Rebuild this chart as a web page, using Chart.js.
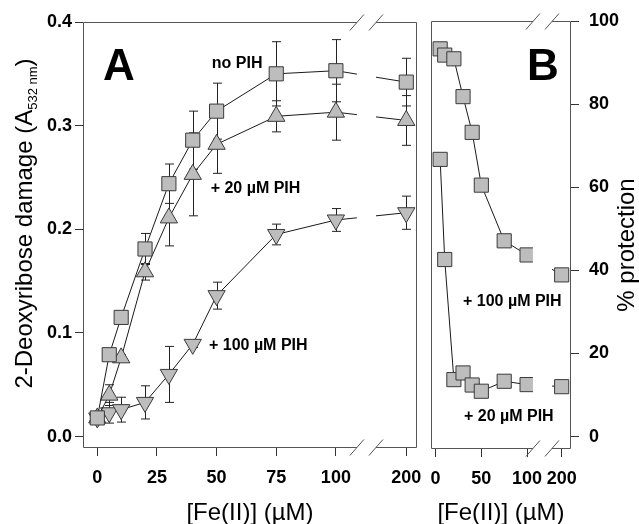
<!DOCTYPE html>
<html>
<head>
<meta charset="utf-8">
<script src="https://cdn.jsdelivr.net/npm/chart.js@4/dist/chart.umd.min.js"></script>
<style>
  body { margin: 0; background: #fff; }
  #wrap { position: relative; width: 639px; height: 524px; }
  canvas { position: absolute; top: 0; }
</style>
</head>
<body>
<div id="wrap">
  <canvas id="chartA" width="424" height="524" style="left:0"></canvas>
  <canvas id="chartB" width="215" height="524" style="left:424px"></canvas>
</div>
<script>
// panel A - 2-deoxyribose damage
var ironA = [0, 5, 10, 20, 30, 40, 50, 75, 100, 200];
var damageNoPIH  = [0.018, 0.079, 0.115, 0.181, 0.244, 0.286, 0.314, 0.350, 0.353, 0.342];
var errNoPIH     = [0.005, 0.002, 0.003, 0.015, 0.019, 0.028, 0.027, 0.031, 0.030, 0.023];
var damage20PIH  = [0.018, 0.040, 0.076, 0.159, 0.211, 0.253, 0.282, 0.309, 0.313, 0.305];
var err20PIH     = [0.004, 0.010, 0.003, 0.008, 0.027, 0.040, 0.028, 0.015, 0.027, 0.024];
var damage100PIH = [0.018, 0.023, 0.026, 0.033, 0.060, 0.089, 0.136, 0.195, 0.209, 0.216];
var err100PIH    = [0.005, 0.010, 0.012, 0.016, 0.027, 0.003, 0.013, 0.010, 0.011, 0.016];

// panel B - % protection
var ironB = [5, 10, 20, 30, 40, 50, 75, 100, 200];
var protect100PIH = [93.3, 91.8, 90.9, 81.8, 73.2, 60.5, 47.1, 43.7, 38.9];
var protect20PIH  = [66.7, 42.6, 13.7, 15.3, 12.4, 10.9, 13.3, 12.5, 12.0];

var xTicksA = [0, 25, 50, 75, 100, 200];
var xTicksB = [0, 50, 100, 200];
var yTicksA = [0, 0.1, 0.2, 0.3, 0.4];
var yTicksB = [0, 20, 40, 60, 80, 100];

// broken x axis: everything past 100 sits at one spot after the break
var breakA = { lo: 108.8, hi: 116.8, at200: 129.5 };
var breakB = { lo: 106.4, hi: 127.2, at200: 137.8 };
function placeX(v, brk) { return v > 100 ? brk.at200 : v; }

Chart.defaults.font.family = "'Liberation Sans', Arial, Helvetica, sans-serif";
Chart.defaults.color = '#000';

function lineSet(label, xs, ys, brk, style, rot, err) {
  return {
    label: label,
    data: xs.map(function (x, i) { return { x: placeX(x, brk), y: ys[i] }; }),
    err: err,
    borderColor: '#1a1a1a',
    borderWidth: 1,
    pointStyle: style,
    pointRotation: rot,
    pointRadius: 10,
    pointBackgroundColor: '#bdbdbd',
    pointBorderColor: '#3a3a3a',
    pointBorderWidth: 1,
    tension: 0,
    fill: false
  };
}

var errorBars = {
  id: 'errorBars',
  beforeDatasetsDraw: function (chart) {
    var ctx = chart.ctx, ys = chart.scales.y;
    chart.data.datasets.forEach(function (ds, i) {
      if (!ds.err) return;
      var meta = chart.getDatasetMeta(i);
      ctx.save();
      ctx.strokeStyle = '#222';
      ctx.lineWidth = 1;
      meta.data.forEach(function (pt, j) {
        var top = ys.getPixelForValue(ds.data[j].y + ds.err[j]);
        var bot = ys.getPixelForValue(ds.data[j].y - ds.err[j]);
        var x = Math.round(pt.x) + 0.5;
        ctx.beginPath();
        ctx.moveTo(x, top); ctx.lineTo(x, bot);
        ctx.moveTo(x - 4.5, top); ctx.lineTo(x + 4.5, top);
        ctx.moveTo(x - 4.5, bot); ctx.lineTo(x + 4.5, bot);
        ctx.stroke();
      });
      ctx.restore();
    });
  }
};

// box with gaps + slashes at the axis break
function makeFrame(brk) {
  return {
    id: 'frame',
    afterDatasetsDraw: function (chart) {
      var ctx = chart.ctx, a = chart.chartArea, xs = chart.scales.x;
      var lo = xs.getPixelForValue(brk.lo), hi = xs.getPixelForValue(brk.hi);
      var l = Math.round(a.left) + 0.5, r = Math.round(a.right) - 0.5;
      var t = Math.round(a.top) + 0.5, b = Math.round(a.bottom) - 0.5;
      ctx.save();
      ctx.fillStyle = '#fff';
      ctx.fillRect(lo, t + 1, hi - lo, b - t - 2);
      ctx.strokeStyle = '#555';
      ctx.lineWidth = 1;
      ctx.beginPath();
      ctx.moveTo(l, t); ctx.lineTo(l, b);
      ctx.moveTo(r, t); ctx.lineTo(r, b);
      ctx.moveTo(l, t); ctx.lineTo(lo, t);
      ctx.moveTo(hi, t); ctx.lineTo(r, t);
      ctx.moveTo(l, b); ctx.lineTo(lo, b);
      ctx.moveTo(hi, b); ctx.lineTo(r, b);
      [lo, hi].forEach(function (cx) {
        [t, b].forEach(function (cy) {
          ctx.moveTo(cx - 7, cy + 8);
          ctx.lineTo(cx + 7, cy - 8);
        });
      });
      ctx.stroke();
      ctx.restore();
    }
  };
}

// in-plot labels (data coords) and a rotated axis title
function makeNotes(items, vtitle) {
  return {
    id: 'notes',
    afterDraw: function (chart) {
      var ctx = chart.ctx, xs = chart.scales.x, ys = chart.scales.y;
      ctx.save();
      ctx.fillStyle = '#000';
      ctx.textAlign = 'left';
      items.forEach(function (it) {
        ctx.font = it.font;
        ctx.textBaseline = it.baseline || 'middle';
        ctx.fillText(it.text, xs.getPixelForValue(it.x), ys.getPixelForValue(it.y));
      });
      ctx.translate(vtitle.x, vtitle.y);
      ctx.rotate(-Math.PI / 2);
      ctx.textBaseline = 'alphabetic';
      var widths = [], total = 0;
      vtitle.parts.forEach(function (p) {
        ctx.font = p.font;
        var w = ctx.measureText(p.text).width;
        widths.push(w);
        total += w;
      });
      var pos = -total / 2;
      vtitle.parts.forEach(function (p, k) {
        ctx.font = p.font;
        ctx.fillText(p.text, pos, p.shift || 0);
        pos += widths[k];
      });
      ctx.restore();
    }
  };
}

function xAxis(min, max, ticks, brk, height) {
  return {
    type: 'linear', min: min, max: max,
    afterBuildTicks: function (s) { s.ticks = ticks.map(function (v) { return { value: placeX(v, brk) }; }); },
    afterFit: function (s) { s.height = height; s.paddingLeft = 0; s.paddingRight = 0; },
    ticks: {
      callback: function (v, i) { return ticks[i]; },
      font: { size: 18, weight: 'bold', lineHeight: 2.42 }, padding: 0, maxRotation: 0, autoSkip: false
    },
    grid: { drawOnChartArea: false, tickLength: 8, color: '#333' },
    border: { display: false },
    title: { display: true, text: '[Fe(II)] (µM)', font: { size: 24, lineHeight: 0.9 }, padding: 0 }
  };
}

function yAxis(min, max, ticks, pos, width, pad, fmt) {
  return {
    type: 'linear', position: pos, min: min, max: max,
    afterBuildTicks: function (s) { s.ticks = ticks.map(function (v) { return { value: v }; }); },
    afterFit: function (s) { s.width = width; s.paddingTop = 0; s.paddingBottom = 0; },
    ticks: {
      callback: function (v, i) { return fmt(ticks[i]); },
      font: { size: 18, weight: 'bold' }, padding: pad, autoSkip: false
    },
    grid: { drawOnChartArea: false, tickLength: 8, color: '#333' },
    border: { display: false }
  };
}

var boldNote = 'bold 16px "Liberation Sans", Arial, sans-serif';
var bigLetter = 'bold 44px "Liberation Sans", Arial, sans-serif';
var titleMain = '24px "Liberation Sans", Arial, sans-serif';
var titleSub = '13px "Liberation Sans", Arial, sans-serif';

new Chart(document.getElementById('chartA').getContext('2d'), {
  type: 'line',
  data: {
    datasets: [
      lineSet('no PIH', ironA, damageNoPIH, breakA, 'rect', 0, errNoPIH),
      lineSet('+ 20 µM PIH', ironA, damage20PIH, breakA, 'triangle', 0, err20PIH),
      lineSet('+ 100 µM PIH', ironA, damage100PIH, breakA, 'triangle', 180, err100PIH)
    ]
  },
  options: {
    responsive: false,
    animation: false,
    events: [],
    layout: { autoPadding: false, padding: { left: 0, top: 22, right: 7, bottom: 0 } },
    scales: {
      x: xAxis(-6, 134, xTicksA, breakA, 76),
      y: yAxis(-0.011, 0.4, yTicksA, 'left', 83, 3, function (v) { return v.toFixed(1); })
    },
    plugins: { legend: { display: false }, tooltip: { enabled: false } }
  },
  plugins: [
    errorBars,
    makeFrame(breakA),
    makeNotes([
      { text: 'A', x: 2.4, y: 0.344, font: bigLetter, baseline: 'alphabetic' },
      { text: 'no PIH', x: 48, y: 0.36, font: boldNote },
      { text: '+ 20 µM PIH', x: 47.5, y: 0.2394, font: boldNote },
      { text: '+ 100 µM PIH', x: 46.8, y: 0.0875, font: boldNote }
    ], {
      x: 31.5, y: 223.5,
      parts: [
        { text: '2-Deoxyribose damage (A', font: titleMain },
        { text: '532 nm', font: titleSub, shift: 5.5 },
        { text: ')', font: titleMain }
      ]
    })
  ]
});

new Chart(document.getElementById('chartB').getContext('2d'), {
  type: 'line',
  data: {
    datasets: [
      lineSet('+ 100 µM PIH', ironB, protect100PIH, breakB, 'rect', 0, null),
      lineSet('+ 20 µM PIH', ironB, protect20PIH, breakB, 'rect', 0, null)
    ]
  },
  options: {
    responsive: false,
    animation: false,
    events: [],
    layout: { autoPadding: false, padding: { left: 7, top: 21, right: 0, bottom: 0 } },
    scales: {
      x: xAxis(-5, 148, xTicksB, breakB, 75),
      y: yAxis(-3, 100, yTicksB, 'right', 68, 10, function (v) { return String(v); })
    },
    plugins: { legend: { display: false }, tooltip: { enabled: false } }
  },
  plugins: [
    errorBars,
    makeFrame(breakB),
    makeNotes([
      { text: 'B', x: 100, y: 85.8, font: bigLetter, baseline: 'alphabetic' },
      { text: '+ 100 µM PIH', x: 30, y: 32.5, font: boldNote },
      { text: '+ 20 µM PIH', x: 31, y: 4.8, font: boldNote }
    ], {
      x: 210, y: 245,
      parts: [{ text: '% protection', font: titleMain }]
    })
  ]
});
</script>
</body>
</html>
